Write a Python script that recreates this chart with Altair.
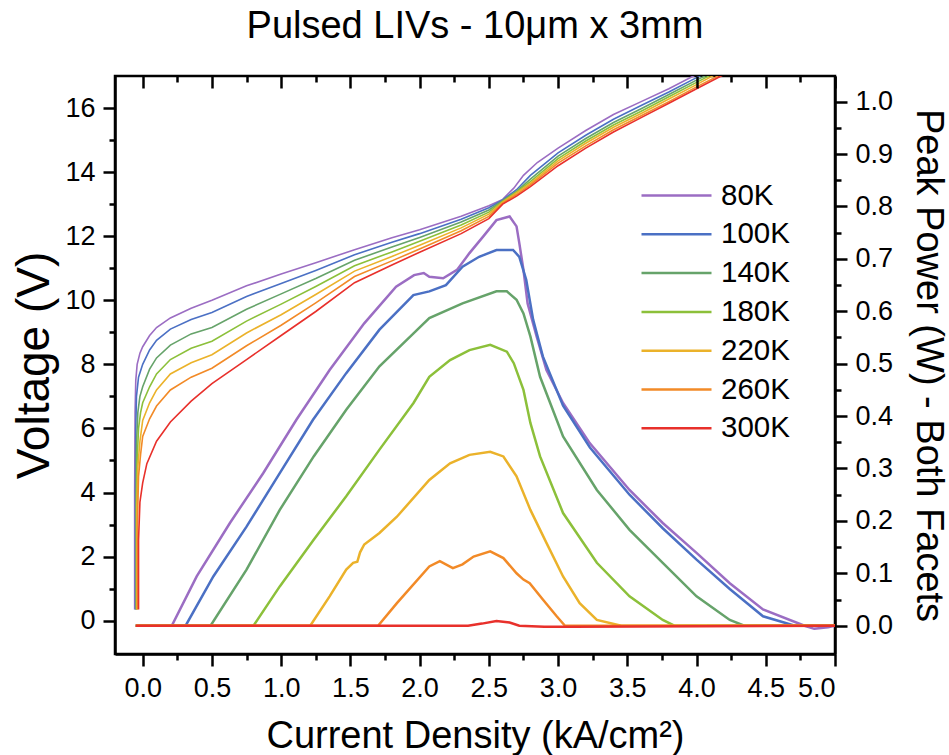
import altair as alt
import pandas as pd

FONT = "Liberation Sans"

series = ["80K", "100K", "140K", "180K", "220K", "260K", "300K"]
colors = ["#9b6dc3", "#4b70c4", "#66a36a", "#8cc03a", "#ebb22a", "#f28a27", "#e8302b"]

# ---------------- Voltage curves (left axis) ----------------
v80_j = [-0.058, -0.058, -0.055, -0.05, -0.04, -0.02, 0.0, 0.05, 0.1, 0.2, 0.35, 0.5, 0.75, 1.0, 1.25, 1.53, 1.8, 2.0, 2.3, 2.5, 2.6, 2.68, 2.75, 2.85, 3.0, 3.2, 3.4, 3.6, 3.8, 4.0, 4.2]
v80_v = [0.35, 4.0, 6.5, 7.5, 8.0, 8.35, 8.55, 8.9, 9.15, 9.45, 9.75, 10.0, 10.45, 10.82, 11.17, 11.58, 11.95, 12.2, 12.62, 12.95, 13.15, 13.5, 13.9, 14.3, 14.75, 15.3, 15.8, 16.2, 16.6, 17.05, 17.5]

v100_j = [-0.052, -0.052, -0.05, -0.045, -0.03, 0.0, 0.05, 0.1, 0.2, 0.35, 0.5, 0.75, 1.0, 1.25, 1.53, 1.8, 2.0, 2.3, 2.5, 2.6, 2.7, 2.8, 2.9, 3.0, 3.2, 3.4, 3.6, 3.8, 4.0, 4.2]
v100_v = [0.35, 4.0, 6.0, 7.0, 7.6, 8.0, 8.45, 8.75, 9.1, 9.4, 9.62, 10.12, 10.52, 10.93, 11.42, 11.81, 12.08, 12.53, 12.89, 13.13, 13.45, 13.9, 14.25, 14.6, 15.15, 15.65, 16.08, 16.5, 16.95, 17.4]

v140_j = [-0.048, -0.048, -0.045, -0.035, -0.02, 0.0, 0.05, 0.1, 0.2, 0.35, 0.5, 0.75, 1.0, 1.25, 1.53, 1.8, 2.0, 2.3, 2.5, 2.6, 2.7, 2.8, 3.0, 3.2, 3.4, 3.6, 3.8, 4.0, 4.2]
v140_v = [0.35, 4.0, 5.5, 6.5, 7.0, 7.3, 7.85, 8.2, 8.6, 8.95, 9.15, 9.72, 10.2, 10.68, 11.25, 11.66, 11.96, 12.44, 12.82, 13.11, 13.4, 13.78, 14.5, 15.05, 15.55, 15.98, 16.42, 16.87, 17.3]

v180_j = [-0.045, -0.045, -0.04, -0.03, -0.015, 0.0, 0.05, 0.1, 0.2, 0.35, 0.5, 0.75, 1.0, 1.25, 1.53, 1.8, 2.0, 2.3, 2.5, 2.6, 2.7, 2.8, 3.0, 3.2, 3.4, 3.6, 3.8, 4.0, 4.2]
v180_v = [0.35, 3.5, 5.0, 6.0, 6.5, 6.8, 7.3, 7.7, 8.15, 8.5, 8.72, 9.35, 9.88, 10.43, 11.08, 11.51, 11.84, 12.35, 12.75, 13.09, 13.38, 13.7, 14.42, 14.97, 15.47, 15.9, 16.35, 16.8, 17.25]

v220_j = [-0.042, -0.042, -0.035, -0.02, 0.0, 0.05, 0.1, 0.2, 0.35, 0.5, 0.75, 1.0, 1.25, 1.53, 1.8, 2.0, 2.3, 2.5, 2.6, 2.7, 2.8, 3.0, 3.2, 3.4, 3.6, 3.8, 4.0, 4.2]
v220_v = [0.35, 3.5, 4.8, 5.6, 6.25, 6.8, 7.2, 7.7, 8.05, 8.3, 8.98, 9.55, 10.18, 10.91, 11.37, 11.72, 12.26, 12.69, 13.06, 13.35, 13.65, 14.35, 14.9, 15.4, 15.83, 16.28, 16.73, 17.2]

v260_j = [-0.038, -0.038, -0.03, -0.015, 0.0, 0.05, 0.1, 0.2, 0.35, 0.5, 0.75, 1.0, 1.25, 1.53, 1.8, 2.0, 2.3, 2.5, 2.6, 2.7, 2.8, 3.0, 3.2, 3.4, 3.6, 3.8, 4.0, 4.2]
v260_v = [0.35, 3.0, 4.5, 5.2, 5.75, 6.3, 6.7, 7.2, 7.6, 7.88, 8.58, 9.22, 9.92, 10.74, 11.23, 11.6, 12.17, 12.62, 13.03, 13.3, 13.6, 14.28, 14.82, 15.32, 15.76, 16.2, 16.66, 17.1]

v300_j = [-0.03, -0.03, -0.02, 0.0, 0.03, 0.1, 0.2, 0.35, 0.5, 0.75, 1.0, 1.25, 1.53, 1.8, 2.0, 2.3, 2.5, 2.6, 2.7, 2.8, 3.0, 3.2, 3.4, 3.6, 3.8, 4.0, 4.2]
v300_v = [0.35, 2.5, 3.7, 4.3, 4.9, 5.6, 6.2, 6.85, 7.4, 8.15, 8.9, 9.65, 10.55, 11.1, 11.5, 12.08, 12.55, 13.0, 13.25, 13.55, 14.2, 14.75, 15.25, 15.7, 16.15, 16.6, 17.05]

# ---------------- Peak power curves (right axis) ----------------
p80_j = [-0.05, 0.21, 0.39, 0.63, 0.87, 1.11, 1.35, 1.6, 1.83, 1.96, 2.03, 2.07, 2.17, 2.27, 2.36, 2.46, 2.555, 2.65, 2.7, 2.72, 2.75, 2.78, 2.845, 2.916, 3.036, 3.23, 3.516, 3.756, 4.0, 4.24, 4.48, 4.78, 4.85, 4.95, 5.0]
p80_p = [0.0, 0.0, 0.094, 0.196, 0.291, 0.393, 0.488, 0.577, 0.647, 0.669, 0.673, 0.666, 0.663, 0.679, 0.711, 0.743, 0.774, 0.781, 0.762, 0.73, 0.679, 0.615, 0.552, 0.488, 0.425, 0.348, 0.259, 0.196, 0.139, 0.081, 0.031, 0.0, -0.006, -0.003, 0.0]

p100_j = [-0.05, 0.31, 0.51, 0.75, 0.99, 1.23, 1.47, 1.71, 1.955, 2.07, 2.19, 2.31, 2.43, 2.555, 2.675, 2.72, 2.77, 2.82, 2.89, 3.036, 3.23, 3.516, 3.756, 4.0, 4.24, 4.48, 4.71, 5.0]
p100_p = [0.0, 0.0, 0.094, 0.189, 0.291, 0.393, 0.482, 0.565, 0.631, 0.638, 0.65, 0.685, 0.704, 0.717, 0.717, 0.704, 0.66, 0.584, 0.514, 0.42, 0.34, 0.25, 0.186, 0.126, 0.07, 0.018, 0.0, 0.0]

p140_j = [-0.05, 0.49, 0.75, 0.99, 1.235, 1.47, 1.71, 1.956, 2.07, 2.31, 2.555, 2.63, 2.7, 2.75, 2.8, 2.87, 3.036, 3.28, 3.516, 3.756, 4.0, 4.24, 4.345, 5.0]
p140_p = [0.0, 0.0, 0.107, 0.221, 0.323, 0.412, 0.495, 0.558, 0.587, 0.615, 0.638, 0.638, 0.622, 0.596, 0.552, 0.475, 0.361, 0.259, 0.183, 0.12, 0.056, 0.011, 0.0, 0.0]

p180_j = [-0.05, 0.8, 0.99, 1.235, 1.47, 1.71, 1.956, 2.07, 2.22, 2.36, 2.51, 2.63, 2.68, 2.75, 2.8, 2.87, 3.036, 3.28, 3.516, 3.756, 3.84, 5.0]
p180_p = [0.0, 0.0, 0.075, 0.164, 0.247, 0.336, 0.425, 0.475, 0.507, 0.526, 0.536, 0.523, 0.501, 0.45, 0.387, 0.323, 0.215, 0.12, 0.056, 0.011, 0.0, 0.0]

p220_j = [-0.05, 1.21, 1.35, 1.47, 1.52, 1.55, 1.57, 1.6, 1.71, 1.836, 2.07, 2.22, 2.36, 2.51, 2.605, 2.7, 2.8, 2.916, 3.036, 3.156, 3.28, 3.457, 5.0]
p220_p = [0.0, 0.0, 0.056, 0.107, 0.12, 0.122, 0.14, 0.155, 0.177, 0.208, 0.278, 0.31, 0.326, 0.332, 0.323, 0.285, 0.221, 0.158, 0.094, 0.043, 0.011, 0.0, 0.0]

p260_j = [-0.05, 1.7, 1.836, 2.07, 2.146, 2.24, 2.31, 2.39, 2.51, 2.605, 2.7, 2.75, 2.795, 2.89, 2.99, 3.05, 5.0]
p260_p = [0.0, 0.0, 0.043, 0.113, 0.123, 0.11, 0.117, 0.132, 0.142, 0.129, 0.1, 0.088, 0.081, 0.05, 0.018, 0.0, 0.0]

p300_j = [-0.05, 2.35, 2.45, 2.555, 2.65, 2.72, 2.9, 3.1, 5.0]
p300_p = [0.0, 0.0, 0.004, 0.009, 0.006, 0.0, -0.002, -0.002, 0.0]

# ---------------- Axis ticks ----------------
x_major = [0.0, 0.5, 1.0, 1.5, 2.0, 2.5, 3.0, 3.5, 4.0, 4.5, 5.0]
x_minor = [0.25, 0.75, 1.25, 1.75, 2.25, 2.75, 3.25, 3.75, 4.25, 4.75]
v_major = [0, 2, 4, 6, 8, 10, 12, 14, 16]
v_minor = [1, 3, 5, 7, 9, 11, 13, 15]
p_major = [0.0, 0.1, 0.2, 0.3, 0.4, 0.5, 0.6, 0.7, 0.8, 0.9, 1.0]
p_minor = [0.05, 0.15, 0.25, 0.35, 0.45, 0.55, 0.65, 0.75, 0.85, 0.95]

X_DOM = [-0.2, 5.0]
V_DOM = [-1.04, 17.0]
P_DOM = [-0.054, 1.049]


def frame(groups, valname):
    rows = []
    for name, js, vs in groups:
        for i, (j, v) in enumerate(zip(js, vs)):
            rows.append({"series": name, "J": j, valname: v, "idx": i})
    return pd.DataFrame(rows)


vdf = frame([("80K", v80_j, v80_v), ("100K", v100_j, v100_v), ("140K", v140_j, v140_v),
             ("180K", v180_j, v180_v), ("220K", v220_j, v220_v), ("260K", v260_j, v260_v),
             ("300K", v300_j, v300_v)], "V")
pdf = frame([("80K", p80_j, p80_p), ("100K", p100_j, p100_p), ("140K", p140_j, p140_p),
             ("180K", p180_j, p180_p), ("220K", p220_j, p220_p), ("260K", p260_j, p260_p),
             ("300K", p300_j, p300_p)], "P")
dummy = pd.DataFrame({"J": [1.0], "V": [1.0], "P": [0.5]})

xs = alt.Scale(domain=X_DOM, nice=False, zero=False)
vs = alt.Scale(domain=V_DOM, nice=False, zero=False)
ps = alt.Scale(domain=P_DOM, nice=False, zero=False)

leg = alt.Legend(title=None, orient="none", legendX=525, legendY=105, symbolType="stroke",
                 symbolSize=4900, symbolStrokeWidth=2.5, clipHeight=29, rowPadding=8.8,
                 labelFont=FONT, labelFontSize=29.5, labelColor="black", labelOffset=8,
                 padding=0, symbolOffset=0)
color = alt.Color("series:N", scale=alt.Scale(domain=series, range=colors), legend=leg)

volt = alt.Chart(vdf).mark_line(strokeWidth=1.6, clip=True).encode(
    x=alt.X("J:Q", scale=xs, axis=alt.Axis(
        orient="bottom", values=x_major, format=".1f", tickSize=12, labelPadding=30,
        labelBaseline="alphabetic", title="Current Density (kA/cm²)", titleY=93,
        titleBaseline="alphabetic")),
    y=alt.Y("V:Q", scale=vs, axis=alt.Axis(
        orient="left", values=v_major, format="d", tickSize=12, labelPadding=8,
        title="Voltage (V)", titleX=-67, titleFontSize=46, titleBaseline="alphabetic")),
    color=color,
    order=alt.Order("idx:Q"),
)

power = alt.Chart(pdf).mark_line(strokeWidth=2.5, clip=True).encode(
    x=alt.X("J:Q", scale=xs, axis=None),
    y=alt.Y("P:Q", scale=ps, axis=alt.Axis(
        orient="right", values=p_major, format=".1f", tickSize=12, labelPadding=8,
        title="Peak Power (W) - Both Facets", titleX=81, titleAngle=90,
        titleBaseline="alphabetic")),
    color=color,
    order=alt.Order("idx:Q"),
)

ax_minor = alt.Chart(dummy).mark_point(opacity=0, size=1).encode(
    x=alt.X("J:Q", scale=xs, axis=alt.Axis(orient="bottom", values=x_minor, labels=False,
                                           domain=False, tickSize=6, title=None)),
    y=alt.Y("V:Q", scale=vs, axis=alt.Axis(orient="left", values=v_minor, labels=False,
                                           domain=False, tickSize=6, title=None)),
)

ax_top = alt.Chart(dummy).mark_point(opacity=0, size=1).encode(
    x=alt.X("J:Q", scale=xs, axis=alt.Axis(orient="top", values=x_major, labels=False,
                                           domain=False, tickSize=12, offset=-12,
                                           title=None, zindex=1)),
    y=alt.Y("P:Q", scale=ps, axis=alt.Axis(orient="right", values=p_minor, labels=False,
                                           domain=False, tickSize=6, title=None)),
)

ax_top_minor = alt.Chart(dummy).mark_point(opacity=0, size=1).encode(
    x=alt.X("J:Q", scale=xs, axis=alt.Axis(orient="top", values=x_minor, labels=False,
                                           domain=False, tickSize=6, offset=-6,
                                           title=None, zindex=1)),
    y=alt.Y("V:Q", scale=vs, axis=None),
)

chart = alt.layer(volt, power, ax_minor, ax_top, ax_top_minor).resolve_scale(
    x="independent", y="independent", color="shared"
).properties(
    width=720,
    height=578,
    autosize=alt.AutoSizeParams(type="none"),
    padding={"left": 115, "top": 76, "right": 114, "bottom": 101},
    title=alt.TitleParams(text="Pulsed LIVs - 10μm x 3mm", anchor="middle", offset=37,
                          dy=38, baseline="alphabetic", font=FONT, fontSize=38,
                          fontWeight="normal", color="black"),
).configure_view(
    stroke="black", strokeWidth=2.5
).configure_axis(
    domainColor="black", domainWidth=2.5, tickColor="black", tickWidth=2.5,
    labelColor="black", labelFont=FONT, labelFontSize=27,
    titleFont=FONT, titleFontSize=38, titleFontWeight="normal", titleColor="black",
    grid=False,
)

chart.save("out.html", embed_options={"renderer": "svg", "actions": False})
